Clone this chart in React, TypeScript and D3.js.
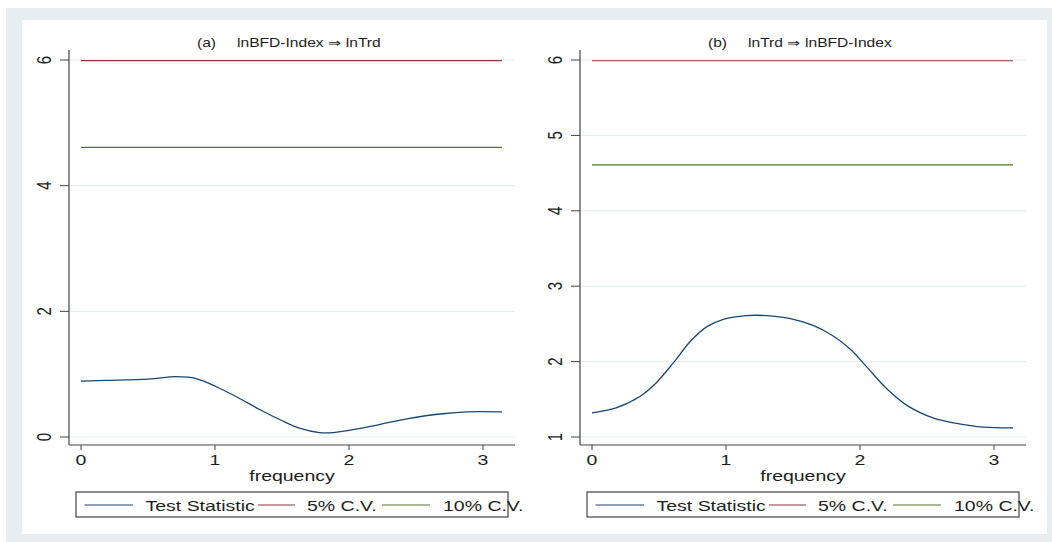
import React, { useEffect, useRef } from "react";
import * as d3 from "d3";

// panel (a): lnBFD-Index => lnTrd
const freqA = [0, 0.19, 0.5, 0.71, 0.86, 1.01, 1.16, 1.34, 1.49, 1.63, 1.78, 1.88, 2.01, 2.21, 2.43, 2.7, 2.88, 3.1416];
const statA = [0.89, 0.9, 0.92, 0.96, 0.93, 0.8, 0.64, 0.43, 0.27, 0.14, 0.07, 0.07, 0.11, 0.19, 0.29, 0.37, 0.4, 0.4];

// panel (b): lnTrd => lnBFD-Index
const freqB = [0, 0.18, 0.36, 0.48, 0.61, 0.73, 0.855, 0.98, 1.15, 1.3, 1.48, 1.65, 1.8, 1.93, 2.05, 2.2, 2.35, 2.55, 2.72, 2.92, 3.1416];
const statB = [1.32, 1.385, 1.54, 1.72, 1.99, 2.26, 2.46, 2.56, 2.61, 2.61, 2.57, 2.48, 2.34, 2.16, 1.93, 1.64, 1.42, 1.25, 1.18, 1.13, 1.12];

const cv5 = 5.99;
const cv10 = 4.61;
const freqRange = [0, 3.1416];

const xTicks = [0, 1, 2, 3];
const yTicksA = [0, 2, 4, 6];
const yTicksB = [1, 2, 3, 4, 5, 6];

const titlesA = ["(a)", "lnBFD-Index \u21D2 lnTrd"];
const titlesB = ["(b)", "lnTrd \u21D2 lnBFD-Index"];
const legendLabels = ["Test Statistic", "5% C.V.", "10% C.V."];
const xLabel = "frequency";

const colors = ["#1a476f", "#90353b", "#55752f"];
const SX = 1.3; // the source image is stretched horizontally

const App: React.FC = () => {
  const chartRef = useRef<SVGSVGElement>(null);

  useEffect(() => {
    const svg = d3.select(chartRef.current);
    svg.selectAll("*").remove();

    const font = "'Liberation Sans', Arial, sans-serif";

    // background frame
    svg.append("rect").attr("x", 6).attr("y", 8).attr("width", 1046).attr("height", 534).attr("fill", "#e6eef2");
    svg.append("rect").attr("x", 22).attr("y", 20).attr("width", 1025).attr("height", 514).attr("fill", "#ffffff");

    const text = (
      g: d3.Selection<any, unknown, null, undefined>,
      x: number,
      y: number,
      str: string,
      size: number,
      anchor = "middle",
      rotate = 0
    ) => {
      g.append("text")
        .attr("transform", `translate(${x},${y}) scale(${SX},1) rotate(${rotate})`)
        .attr("text-anchor", anchor)
        .attr("font-family", font)
        .attr("font-size", size)
        .attr("fill", "#1e1e1e")
        .text(str);
    };

    const drawPanel = (
      left: number,
      freq: number[],
      stat: number[],
      yDomain: [number, number],
      yTicks: number[],
      titles: string[]
    ) => {
      const right = left + 446;
      const top = 50;
      const bottom = 445;
      const g = svg.append("g");

      const x = d3.scaleLinear().domain(freqRange).range([left + 12, left + 12 + 134 * freqRange[1]]);
      const y = d3.scaleLinear().domain(yDomain).range([437, 60]);

      // grid
      g.selectAll("line.grid")
        .data(yTicks)
        .enter()
        .append("line")
        .attr("x1", left)
        .attr("x2", right)
        .attr("y1", d => y(d))
        .attr("y2", d => y(d))
        .attr("stroke", "#e3edf0")
        .attr("stroke-width", 1);

      // critical values
      [cv5, cv10].forEach((v, i) => {
        g.append("path")
          .datum(freqRange)
          .attr("d", d3.line<number>().x(d => x(d)).y(() => y(v)))
          .attr("stroke", colors[i + 1])
          .attr("stroke-width", 1.2)
          .attr("fill", "none");
      });

      // test statistic
      const pts = freq.map((f, i) => [f, stat[i]] as [number, number]);
      g.append("path")
        .datum(pts)
        .attr("d", d3.line<[number, number]>().x(d => x(d[0])).y(d => y(d[1])).curve(d3.curveCatmullRom.alpha(0.5)))
        .attr("stroke", colors[0])
        .attr("stroke-width", 1.3)
        .attr("fill", "none");

      // axes
      g.append("line").attr("x1", left).attr("x2", left).attr("y1", top).attr("y2", bottom)
        .attr("stroke", "#444").attr("stroke-width", 1.2);
      g.append("line").attr("x1", left).attr("x2", right).attr("y1", bottom).attr("y2", bottom)
        .attr("stroke", "#444").attr("stroke-width", 1.2);

      yTicks.forEach(t => {
        g.append("line").attr("x1", left - 9).attr("x2", left).attr("y1", y(t)).attr("y2", y(t))
          .attr("stroke", "#444").attr("stroke-width", 1);
        text(g, left - 18, y(t), String(t), 15, "middle", -90);
      });
      xTicks.forEach(t => {
        g.append("line").attr("x1", x(t)).attr("x2", x(t)).attr("y1", bottom).attr("y2", bottom + 5)
          .attr("stroke", "#444").attr("stroke-width", 1);
        text(g, x(t), 465, String(t), 15);
      });

      const mid = (left + right) / 2;
      text(g, mid, 481, xLabel, 15);

      // title
      text(g, mid - 76, 47, titles[0], 12, "end");
      text(g, mid - 55, 47, titles[1], 12, "start");

      // legend
      const L = left + 7;
      g.append("rect").attr("x", L).attr("y", 492).attr("width", 432).attr("height", 25)
        .attr("fill", "none").attr("stroke", "#444").attr("stroke-width", 1.2);
      const ly = 505;
      const segs = [[8.5, 57], [182, 219], [306, 354]];
      const labelX = [69.5, 231, 367];
      legendLabels.forEach((lab, i) => {
        g.append("line").attr("x1", L + segs[i][0]).attr("x2", L + segs[i][1]).attr("y1", ly).attr("y2", ly)
          .attr("stroke", colors[i]).attr("stroke-width", 1.2);
        text(g, L + labelX[i], 511, lab, 15, "start");
      });
    };

    drawPanel(69, freqA, statA, [0, 6], yTicksA, titlesA);
    drawPanel(580, freqB, statB, [1, 6], yTicksB, titlesB);
  }, []);

  return (
    <svg
      ref={chartRef}
      width={1052}
      height={542}
      style={{ position: "absolute", left: 0, top: 0, background: "#ffffff" }}
    />
  );
};

export default App;
